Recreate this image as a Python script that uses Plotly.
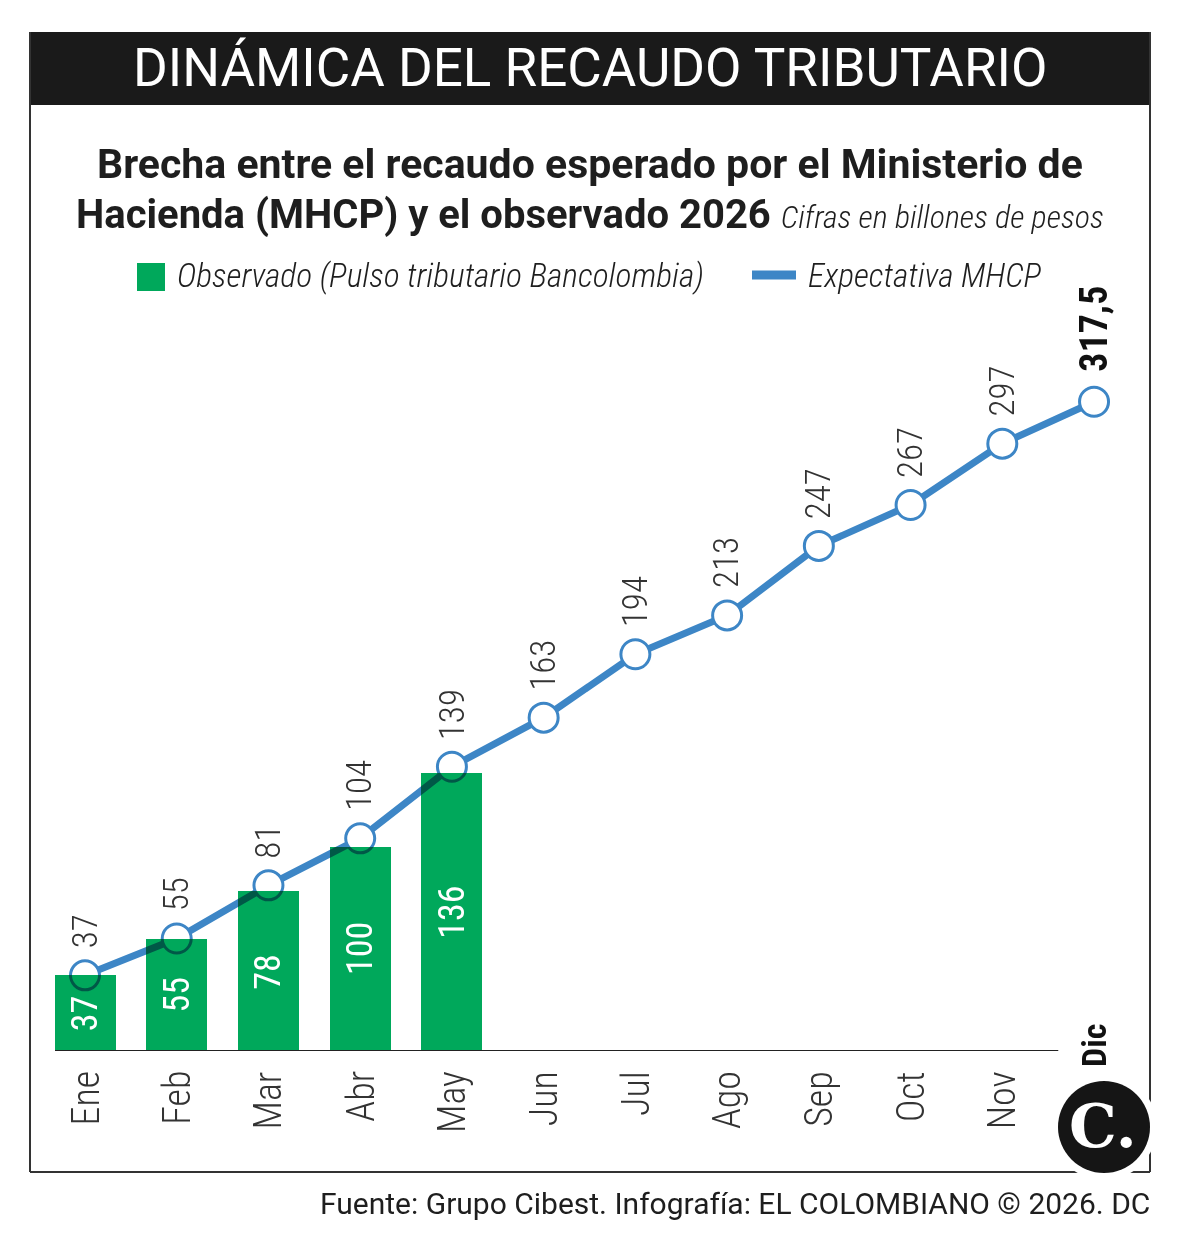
import plotly.graph_objects as go

W, H = 1182, 1251

MONTHS = ["Ene", "Feb", "Mar", "Abr", "May", "Jun", "Jul", "Ago", "Sep", "Oct", "Nov", "Dic"]
EXPECTED = [37, 55, 81, 104, 139, 163, 194, 213, 247, 267, 297, 317.5]
EXPECTED_LABELS = ["37", "55", "81", "104", "139", "163", "194", "213", "247", "267", "297", "317,5"]
OBSERVED = [37, 55, 78, 100, 136]
OBSERVED_LABELS = ["37", "55", "78", "100", "136"]

HEADER = "DINÁMICA DEL RECAUDO TRIBUTARIO"
TITLE_1 = "Brecha entre el recaudo esperado por el Ministerio de"
TITLE_2 = "Hacienda (MHCP) y el observado 2026"
SUBTITLE = "Cifras en billones de pesos"
LEG_BAR = "Observado (Pulso tributario Bancolombia)"
LEG_LINE = "Expectativa MHCP"
FOOTER = "Fuente: Grupo Cibest. Infografía: EL COLOMBIANO © 2026. DC"

FONT = "Roboto Condensed, Liberation Sans Narrow, Arial Narrow, Roboto, sans-serif"
WIDE = "Roboto, Liberation Sans, sans-serif"
GREEN = "#00a85b"
BLUE = "#3d86c6"
INK = "#1e1e1e"


def px(x):
    return x / W


def py(y):
    return 1 - y / H


xs = list(range(len(MONTHS)))
bx = xs[:len(OBSERVED)]

fig = go.Figure()
fig.add_trace(go.Bar(x=bx, y=OBSERVED, width=0.665, marker=dict(color=GREEN, line=dict(width=0)),
                     hoverinfo="skip"))
fig.add_trace(go.Scatter(x=xs, y=EXPECTED, mode="lines+markers",
                         line=dict(color=BLUE, width=7),
                         marker=dict(size=29, color="white", line=dict(color=BLUE, width=3)),
                         cliponaxis=False, hoverinfo="skip"))

ann = []
# header
ann.append(dict(x=px(590), y=py(68), xref="paper", yref="paper", text=HEADER, showarrow=False,
                font=dict(family=WIDE, size=53, color="white"), xanchor="center", yanchor="middle"))
# title
ann.append(dict(x=px(590), y=py(164), xref="paper", yref="paper", text=TITLE_1, showarrow=False,
                font=dict(family=WIDE, size=41, color=INK, weight=700), xanchor="center", yanchor="middle"))
ann.append(dict(x=px(590), y=py(215), xref="paper", yref="paper",
                text=TITLE_2 + " <span style='font-family:Roboto Condensed;font-size:32px;font-weight:300'><i>"
                     + SUBTITLE + "</i></span>",
                showarrow=False, font=dict(family=WIDE, size=40, color=INK, weight=700),
                xanchor="center", yanchor="middle"))
# legend
ann.append(dict(x=px(175), y=py(276), xref="paper", yref="paper", text="<i>" + LEG_BAR + "</i>", showarrow=False,
                font=dict(family=FONT, size=33.5, color=INK, weight=300), xanchor="left", yanchor="middle"))
ann.append(dict(x=px(806), y=py(276), xref="paper", yref="paper", text="<i>" + LEG_LINE + "</i>", showarrow=False,
                font=dict(family=FONT, size=33.5, color=INK, weight=300), xanchor="left", yanchor="middle"))
# footer
ann.append(dict(x=px(1152), y=py(1203), xref="paper", yref="paper", text=FOOTER, showarrow=False,
                font=dict(family=WIDE, size=30, color=INK), xanchor="right", yanchor="middle"))

# values above the line
for i, (v, t) in enumerate(zip(EXPECTED, EXPECTED_LABELS)):
    last = i == len(EXPECTED) - 1
    ann.append(dict(x=i, y=v, xref="x", yref="y", text=("<b>" + t + "</b>") if last else t,
                    showarrow=False, textangle=-90, yanchor="bottom", xanchor="center",
                    yshift=28 if last else 25,
                    font=dict(family=FONT, size=38 if last else 35, color="#111" if last else "#333",
                              weight=700 if last else 300)))
# values inside bars
for i, (v, t) in enumerate(zip(OBSERVED, OBSERVED_LABELS)):
    ann.append(dict(x=i, y=v / 2, xref="x", yref="y", text=t, showarrow=False, textangle=-90,
                    xanchor="center", yanchor="middle",
                    font=dict(family=FONT, size=36, color="white", weight=400)))
# month labels
for i, m in enumerate(MONTHS[:-1]):
    ann.append(dict(x=i, y=0, xref="x", yref="y", text=m, showarrow=False, textangle=-90,
                    xanchor="center", yanchor="top", yshift=-18,
                    font=dict(family=FONT, size=38, color="#333", weight=300)))
ann.append(dict(x=len(MONTHS) - 1, y=py(1046), xref="x", yref="paper", text="<b>" + MONTHS[-1] + "</b>",
                showarrow=False, textangle=-90, xanchor="center", yanchor="middle",
                font=dict(family=FONT, size=34, color="#111", weight=700)))
# logo letter
ann.append(dict(x=px(1103), y=py(1126), xref="paper", yref="paper", text="<b>C.</b>", showarrow=False,
                xanchor="center", yanchor="middle",
                font=dict(family="DejaVu Serif, Liberation Serif, serif", size=60, color="white")))

shapes = [
    # header band
    dict(type="rect", xref="paper", yref="paper", x0=px(30), x1=px(1151), y0=py(32), y1=py(105),
         fillcolor="#1a1a1a", line=dict(width=0), layer="below"),
    # frame
    dict(type="line", xref="paper", yref="paper", x0=px(30), x1=px(30), y0=py(32), y1=py(1172),
         line=dict(color="#333", width=2)),
    dict(type="line", xref="paper", yref="paper", x0=px(1150), x1=px(1150), y0=py(32), y1=py(1172),
         line=dict(color="#333", width=2)),
    dict(type="line", xref="paper", yref="paper", x0=px(30), x1=px(1150), y0=py(1172), y1=py(1172),
         line=dict(color="#333", width=2)),
    # baseline
    dict(type="line", xref="x", yref="y", x0=-0.327, x1=10.61, y0=0, y1=0,
         line=dict(color="#222", width=2), layer="above"),
    # legend keys
    dict(type="rect", xref="paper", yref="paper", x0=px(137), x1=px(165), y0=py(263), y1=py(291),
         fillcolor=GREEN, line=dict(width=0)),
    dict(type="line", xref="paper", yref="paper", x0=px(752), x1=px(796), y0=py(275), y1=py(275),
         line=dict(color=BLUE, width=9)),
    # logo
    dict(type="circle", xref="paper", yref="paper", x0=px(1104 - 53), x1=px(1104 + 53),
         y0=py(1127 - 53), y1=py(1127 + 53), fillcolor="white", line=dict(width=0), layer="above"),
    dict(type="circle", xref="paper", yref="paper", x0=px(1104 - 46), x1=px(1104 + 46),
         y0=py(1127 - 46), y1=py(1127 + 46), fillcolor="#151515", line=dict(width=0), layer="above"),
]

fig.update_layout(
    width=W, height=H, margin=dict(l=0, r=0, t=0, b=0),
    paper_bgcolor="white", plot_bgcolor="rgba(0,0,0,0)", showlegend=False,
    xaxis=dict(domain=[px(55), px(1150)], range=[-0.327, 11.61], visible=False, fixedrange=True),
    yaxis=dict(domain=[py(1051), py(290)], range=[0, (1051 - 290) / 2.045], visible=False, fixedrange=True),
    annotations=ann, shapes=shapes, bargap=0,
)

post = "document.querySelectorAll('.scatterlayer').forEach(function(e){e.style.mixBlendMode='multiply';});"
fig.write_html("out.html", post_script=post)
